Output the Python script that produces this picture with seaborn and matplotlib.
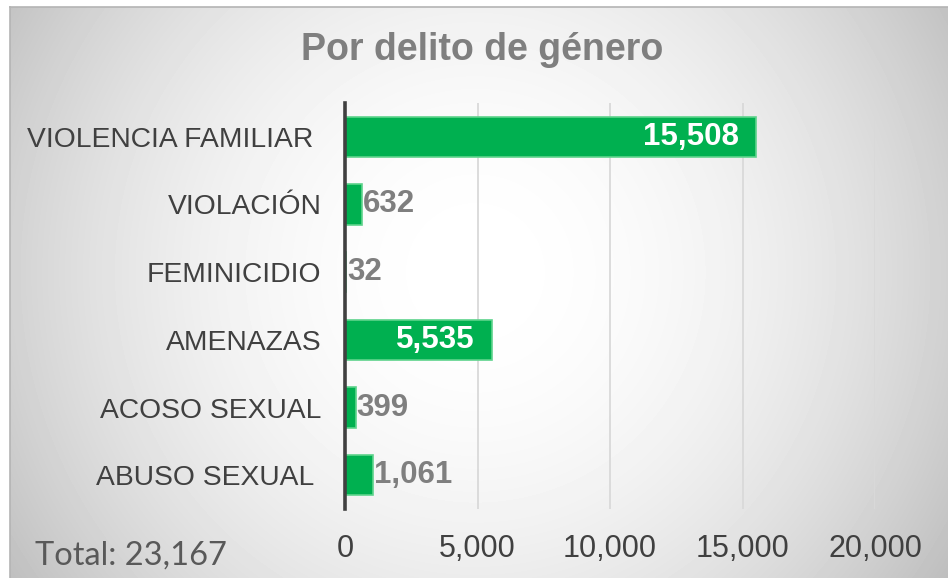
import numpy as np
import pandas as pd
import matplotlib
matplotlib.use("Agg")
import matplotlib.pyplot as plt
import seaborn as sns

# ---- data ----
categories = ["VIOLENCIA FAMILIAR ", "VIOLACIÓN", "FEMINICIDIO", "AMENAZAS",
              "ACOSO SEXUAL", "ABUSO SEXUAL "]
values = [15508, 632, 32, 5535, 399, 1061]
x_ticks = [0, 5000, 10000, 15000, 20000]
title = "Por delito de género"
total_text = "Total: 23,167"

sns.set_theme(style="white")
plt.rcParams['font.family'] = ['Liberation Sans', 'DejaVu Sans']

W_PX, H_PX = 948, 578
fig = plt.figure(figsize=(W_PX / 100, H_PX / 100), dpi=100)
fig.patch.set_facecolor("white")

# ---- radial gradient background ----
bx0, by0 = 10, 7
bw, bh = W_PX - bx0, H_PX - by0
bg = fig.add_axes([bx0 / W_PX, 0, bw / W_PX, bh / H_PX], zorder=0)
yy, xx = np.mgrid[0:bh, 0:bw]
cx, cy = 465, 265
d = np.sqrt((xx - cx) ** 2 + (yy - cy) ** 2) / 555.0
g = np.clip(1 - 0.25 * d ** 2, 0, 1)
bg.imshow(g, cmap="gray", vmin=0, vmax=1, aspect="auto", interpolation="bilinear")
bg.set_xticks([])
bg.set_yticks([])
for s in ["right", "bottom"]:
    bg.spines[s].set_visible(False)
for s in ["top", "left"]:
    bg.spines[s].set_color("#b4b4b4")
    bg.spines[s].set_linewidth(1.2)

# ---- main bar axes ----
left, right, top, bottom = 345, 875, 103, 509
ax = fig.add_axes([left / W_PX, 1 - bottom / H_PX, (right - left) / W_PX, (bottom - top) / H_PX], zorder=1)
ax.set_facecolor("none")

df = pd.DataFrame({"cat": categories, "val": values})
sns.barplot(data=df, y="cat", x="val", orient="h", color="#00B050", saturation=1,
            width=0.6, edgecolor="#5ED38C", linewidth=1.2, ax=ax)

ax.set_xlim(0, 20000)
ax.set_xticks(x_ticks)
ax.set_xticklabels([f"{t:,}" for t in x_ticks])
ax.xaxis.grid(True, color="#d9d9d9", linewidth=1.3)
ax.yaxis.grid(False)
ax.set_axisbelow(True)
ax.set_xlabel("")
ax.set_ylabel("")
for s in ["top", "right", "bottom"]:
    ax.spines[s].set_visible(False)
ax.spines["left"].set_color("#404040")
ax.spines["left"].set_linewidth(2.6)
ax.spines["left"].set_zorder(5)
ax.tick_params(axis="x", length=0, pad=18, labelsize=22, labelcolor="#404040")
ax.tick_params(axis="y", length=0, pad=17, labelsize=20.3, labelcolor="#404040")

for i, v in enumerate(values):
    if v > 5000:
        ax.annotate(f"{v:,}", xy=(v, i), xytext=(-17, 0), textcoords="offset pixels",
                    ha="right", va="center", color="white", fontsize=22.5,
                    fontweight="bold", zorder=6)
    else:
        ax.annotate(f"{v:,}", xy=(v, i), xytext=(1, 0), textcoords="offset pixels",
                    ha="left", va="center", color="#7f7f7f", fontsize=22.5,
                    fontweight="bold", zorder=6)

fig.text(482 / W_PX, 1 - 50 / H_PX, title, ha="center", va="center",
         fontsize=27, fontweight="bold", color="#7f7f7f")
fig.text(35 / W_PX, 1 - 565 / H_PX, total_text, ha="left", va="baseline",
         fontsize=23.5, color="#595959", family=["Lato", "DejaVu Sans"])

fig.savefig("out.png", dpi=100, facecolor=fig.get_facecolor())
